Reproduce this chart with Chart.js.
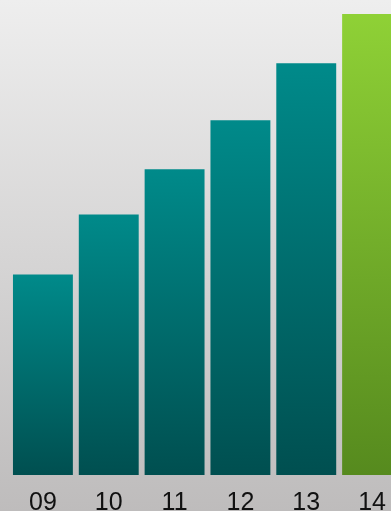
<!DOCTYPE html>
<html>
<head>
<meta charset="utf-8">
<script src="https://cdn.jsdelivr.net/npm/chart.js@4"></script>
<style>
  html, body { margin: 0; padding: 0; overflow: hidden; }
  #wrap { width: 405px; height: 532px; }
</style>
</head>
<body>
<div id="wrap"><canvas id="myChart"></canvas></div>
<script>
var years = ['09', '10', '11', '12', '13', '14'];
var values = [4.0, 5.2, 6.1, 7.08, 8.22, 9.2];

// background gradient behind everything
var bgPlugin = {
    id: 'bg',
    beforeDraw: function(chart) {
        var c = chart.ctx;
        var g = c.createLinearGradient(0, 0, 0, 511);
        g.addColorStop(0, '#eeeeee');
        g.addColorStop(1, '#bebcbc');
        c.save();
        c.fillStyle = g;
        c.fillRect(0, 0, chart.width, chart.height);
        c.restore();
    }
};

function barFill(context) {
    var chart = context.chart;
    if (!chart.chartArea || !chart.scales.y) return '#007070';
    var y = chart.scales.y;
    var top = y.getPixelForValue(context.raw);
    var bottom = y.getPixelForValue(0);
    var g = chart.ctx.createLinearGradient(0, top, 0, bottom);
    if (context.dataIndex === years.length - 1) {
        g.addColorStop(0, '#8fd136');
        g.addColorStop(1, '#568a1e');
    } else {
        g.addColorStop(0, '#008a8a');
        g.addColorStop(1, '#004f50');
    }
    return g;
}

var ctx = document.getElementById('myChart').getContext('2d');
var myChart = new Chart(ctx, {
    type: 'bar',
    data: {
        labels: years,
        datasets: [{
            data: values,
            backgroundColor: barFill,
            categoryPercentage: 1,
            barPercentage: 0.91
        }]
    },
    options: {
        responsive: true,
        maintainAspectRatio: false,
        animation: false,
        layout: { padding: { left: 10, right: 0, top: 0, bottom: 0 } },
        plugins: {
            legend: { display: false },
            tooltip: { enabled: false }
        },
        scales: {
            x: {
                grid: { display: false, drawTicks: false },
                border: { display: false },
                ticks: {
                    color: '#111111',
                    padding: 16,
                    font: { family: '"Liberation Sans", Arial, sans-serif', size: 25, lineHeight: 1 }
                }
            },
            y: {
                display: false,
                min: 0,
                max: 9.48
            }
        }
    },
    plugins: [bgPlugin]
});
</script>
</body>
</html>
